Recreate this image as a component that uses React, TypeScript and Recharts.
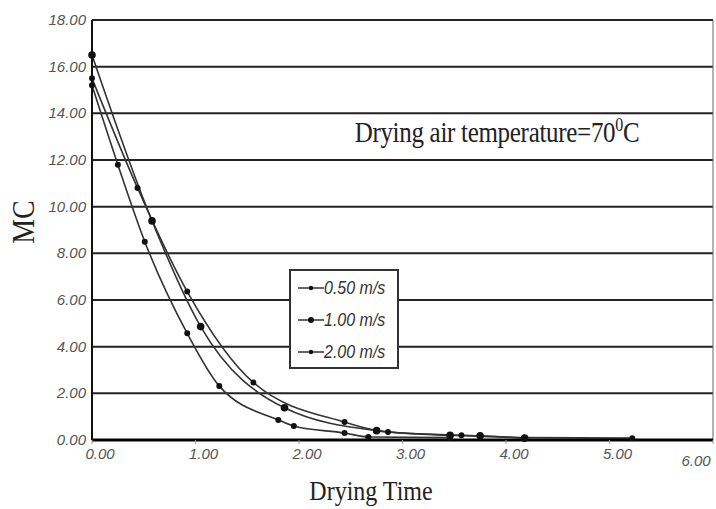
import React from 'react';
import { LineChart, Line, XAxis, YAxis, CartesianGrid, ReferenceLine } from 'recharts';

const xTicks = [0, 1, 2, 3, 4, 5, 6];
const yTicks = [0, 2, 4, 6, 8, 10, 12, 14, 16, 18];

const speed050X = [0, 0.44, 0.92, 1.56, 2.44, 2.86, 3.57, 4.18, 5.22];
const speed050Y = [15.5, 10.8, 6.36, 2.46, 0.77, 0.34, 0.2, 0.1, 0.08];
const speed100X = [0, 0.58, 1.05, 1.86, 2.75, 3.46, 3.75, 4.18];
const speed100Y = [16.5, 9.39, 4.86, 1.38, 0.4, 0.2, 0.18, 0.08];
const speed200X = [0, 0.25, 0.51, 0.92, 1.23, 1.8, 1.95, 2.44, 2.67, 3.46];
const speed200Y = [15.2, 11.8, 8.5, 4.57, 2.31, 0.86, 0.6, 0.3, 0.13, 0.1];

const seriesNames = ['0.50 m/s', '1.00 m/s', '2.00 m/s'];

const toRows = (xs: number[], ys: number[]) => xs.map((t, i) => ({ t, mc: ys[i] }));
const data050 = toRows(speed050X, speed050Y);
const data100 = toRows(speed100X, speed100Y);
const data200 = toRows(speed200X, speed200Y);

const tickFont = "Arial, 'Liberation Sans', sans-serif";

const XTick = (props: any) => {
  const { x, y, payload } = props;
  const v = payload.value as number;
  const dx = v === 6 ? -16 : 8;
  const dy = v === 6 ? 20 : 13;
  return (
    <text x={x + dx} y={y + dy} textAnchor="middle" fill="#555" fontStyle="italic" fontSize={15} fontFamily={tickFont}>
      {v.toFixed(2)}
    </text>
  );
};

const YTick = (props: any) => {
  const { x, y, payload } = props;
  const v = payload.value as number;
  return (
    <text x={x + 5} y={y + 5} textAnchor="end" fill="#555" fontStyle="italic" fontSize={15} fontFamily={tickFont}>
      {v.toFixed(2)}
    </text>
  );
};

const LegendBox = () => (
  <div
    style={{
      position: 'absolute',
      left: 289,
      top: 269,
      width: 106,
      height: 95,
      border: '2px solid #333',
      background: '#fff',
      paddingTop: 1,
    }}
  >
    {seriesNames.map((n, i) => (
      <div key={n} style={{ display: 'flex', alignItems: 'center', height: 32 }}>
        <svg width={26} height={10} style={{ marginLeft: 7 }}>
          <line x1={0} y1={5} x2={26} y2={5} stroke="#333" strokeWidth={1.5} />
          <circle cx={13} cy={5} r={i === 1 ? 3 : 2.2} fill="#111" />
        </svg>
        <span style={{ fontFamily: tickFont, fontStyle: 'italic', fontSize: 16, color: '#333', display: 'inline-block', transform: 'scaleY(1.15)' }}>
          {n}
        </span>
      </div>
    ))}
  </div>
);

export default function App() {
  return (
    <div style={{ position: 'absolute', left: 0, top: 0, width: 716, height: 509, background: '#fff' }}>
      <LineChart width={716} height={509} margin={{ top: 20, right: 3, bottom: 39, left: 0 }}>
        <CartesianGrid horizontal vertical={false} stroke="#222" strokeWidth={2} />
        <XAxis
          type="number"
          dataKey="t"
          domain={[0, 6]}
          ticks={xTicks}
          height={30}
          allowDuplicatedCategory={false}
          tick={<XTick />}
          tickLine={{ stroke: '#999' }}
          tickSize={4}
          axisLine={{ stroke: '#000', strokeWidth: 3 }}
        />
        <YAxis
          type="number"
          domain={[0, 18]}
          ticks={yTicks}
          width={92}
          tick={<YTick />}
          tickLine={false}
          tickMargin={5}
          axisLine={{ stroke: '#111', strokeWidth: 2 }}
        />
        <ReferenceLine x={6} stroke="#666" strokeWidth={1} />
        <Line data={data050} dataKey="mc" name={seriesNames[0]} type="monotone" stroke="#333" strokeWidth={1.6} dot={{ r: 2.2, fill: '#111', stroke: '#111' }} isAnimationActive={false} />
        <Line data={data100} dataKey="mc" name={seriesNames[1]} type="monotone" stroke="#333" strokeWidth={1.6} dot={{ r: 3, fill: '#111', stroke: '#111' }} isAnimationActive={false} />
        <Line data={data200} dataKey="mc" name={seriesNames[2]} type="monotone" stroke="#333" strokeWidth={1.6} dot={{ r: 2.2, fill: '#111', stroke: '#111' }} isAnimationActive={false} />
      </LineChart>
      <LegendBox />
      <div
        style={{
          position: 'absolute',
          left: 24,
          top: 222,
          transform: 'translate(-50%, -50%) rotate(-90deg) scaleY(1.1)',
          fontFamily: "'Liberation Serif', 'Times New Roman', serif",
          fontSize: 28,
          color: '#222',
          whiteSpace: 'nowrap',
        }}
      >
        MC
      </div>
      <div
        style={{
          position: 'absolute',
          left: 371,
          top: 491,
          transform: 'translate(-50%, -50%) scaleY(1.15)',
          fontFamily: "'Liberation Serif', 'Times New Roman', serif",
          fontSize: 24,
          color: '#222',
          whiteSpace: 'nowrap',
        }}
      >
        Drying Time
      </div>
      <div
        style={{
          position: 'absolute',
          left: 497,
          top: 132,
          transform: 'translate(-50%, -50%) scaleY(1.15)',
          fontFamily: "'Liberation Serif', 'Times New Roman', serif",
          fontSize: 25,
          color: '#222',
          whiteSpace: 'nowrap',
          letterSpacing: -0.3,
        }}
      >
        Drying air temperature=70<sup style={{ fontSize: 16 }}>0</sup>C
      </div>
    </div>
  );
}
